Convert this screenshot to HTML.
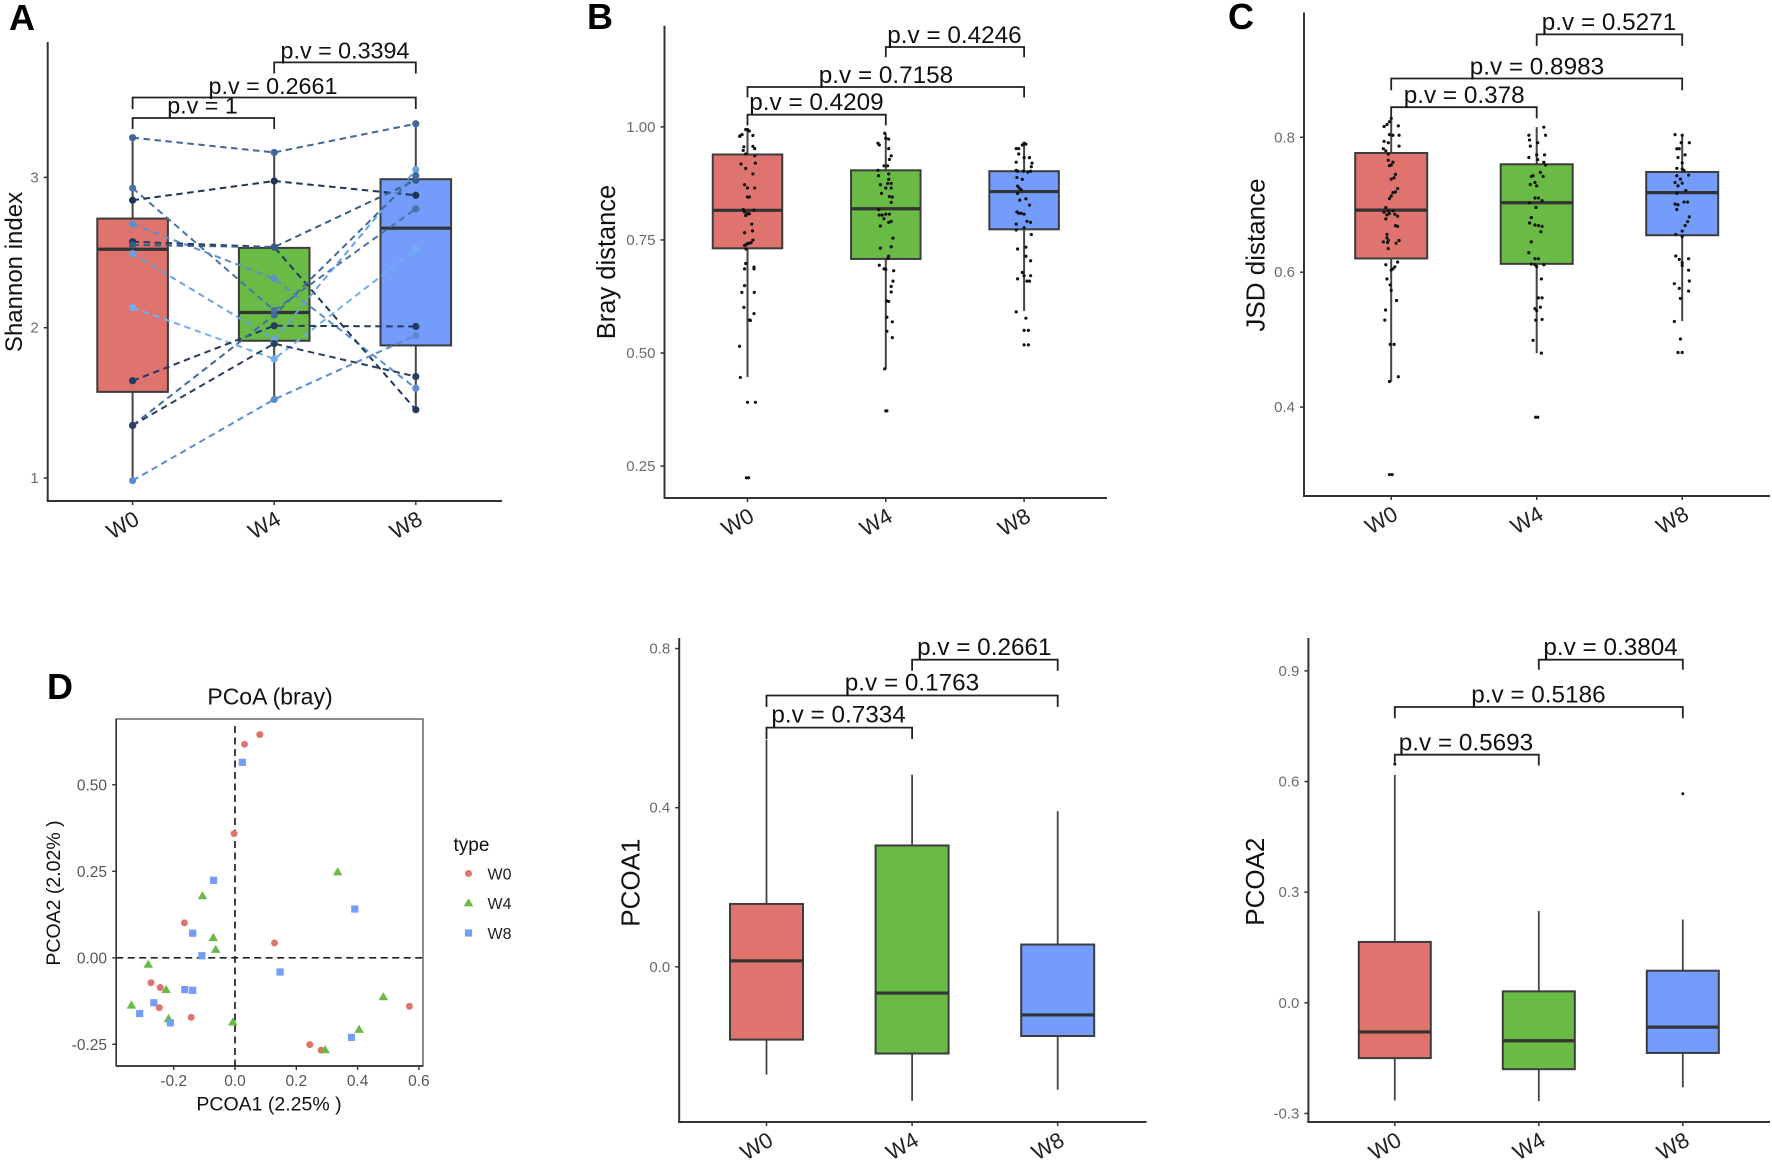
<!DOCTYPE html>
<html lang="en">
<head>
<meta charset="utf-8">
<title>Shannon, Bray, JSD and PCoA comparison across W0, W4 and W8</title>
<style>
html,body{margin:0;padding:0;background:#fff;}
svg{display:block;font-family:"Liberation Sans",Arial,sans-serif;filter:blur(0.35px);}
</style>
</head>
<body>
<svg id="figure" xmlns="http://www.w3.org/2000/svg" width="1772" height="1163" viewBox="0 0 1772 1163">
<rect x="0" y="0" width="1772" height="1163" fill="#ffffff"/>
<text x="9" y="30" font-size="36" font-weight="700" fill="#000">A</text>
<text x="587" y="29" font-size="36" font-weight="700" fill="#000">B</text>
<text x="1228" y="29" font-size="36" font-weight="700" fill="#000">C</text>
<text x="47" y="699" font-size="36" font-weight="700" fill="#000">D</text>
</svg>
<script>
// ---------- shared categories ----------
const categories = ['W0', 'W4', 'W8'];
const boxFills = ['#DE746D', '#69BB46', '#739CFB'];

// ---------- panel A: Shannon index ----------
const aTicks = [1, 2, 3];
const aTickLabels = ['1', '2', '3'];
const aQ1 = [1.573, 1.913, 1.882];
const aMedian = [2.522, 2.101, 2.662];
const aQ3 = [2.726, 2.531, 2.988];
const aWhiskerLow = [0.983, 1.523, 1.454];
const aWhiskerHigh = [3.264, 3.166, 3.357];
const aPLabels = ['p.v = 1', 'p.v = 0.2661', 'p.v = 0.3394'];
const aPairedW0 = [3.264, 2.929, 2.848, 2.688, 2.572, 2.551, 2.493, 2.134, 1.647, 1.350, 1.350, 0.983];
const aPairedW4 = [3.166, 2.115, 2.976, 2.327, 2.536, 2.536, 1.923, 1.792, 2.013, 2.084, 1.894, 1.523];
const aPairedW8 = [3.357, 2.791, 2.881, 1.597, 1.454, 2.981, 3.052, 2.522, 2.008, 3.012, 1.675, 1.949];
const aPairColors = ['#41679b', '#4a72a8', '#1f3557', '#5b8fd0', '#22385c', '#3a5a8a', '#6aa2e2', '#70aef0', '#223a5f', '#3f6aa0', '#2a4060', '#5a8dcf'];

// ---------- panel B: Bray distance ----------
const bTicks = [0.25, 0.5, 0.75, 1];
const bTickLabels = ['0.25', '0.50', '0.75', '1.00'];
const bQ1 = [0.7315, 0.708, 0.7735];
const bMedian = [0.8155, 0.819, 0.857];
const bQ3 = [0.939, 0.904, 0.902];
const bWhiskerLow = [0.447, 0.465, 0.593];
const bWhiskerHigh = [0.995, 0.986, 0.964];
const bPLabels = ['p.v = 0.4209', 'p.v = 0.7158', 'p.v = 0.4246'];
const bValuesW0 = [.979,.982,.983,.994,.994,.991,.981,.956,.957,.952,.948,.940,.936,.918,.908,.920,.896,.872,.865,.865,.845,.845,.817,.812,.808,.804,.808,.816,.785,.770,.766,.750,.744,.743,.742,.739,.738,.730,.698,.686,.690,.686,.649,.634,.634,.601,.587,.573,.572,.515,.446,.391,.391,.224,.224];
const bJitterW0 = [-.057,-.047,-.039,-.013,0,.013,.039,-.026,.039,.052,-.031,-.013,.052,-.047,-.013,.057,.039,-.021,0,.052,0,.013,-.031,-.021,0,-.013,.013,.047,.031,.036,-.021,.039,.026,.013,0,-.013,-.021,-.01,-.013,-.021,.047,.047,-.021,-.041,.049,-.026,.047,.013,.021,-.057,-.052,0,.057,-.008,.008];
const bValuesW4 = [.986,.975,.973,.964,.960,.952,.936,.928,.914,.914,.904,.892,.896,.884,.872,.875,.875,.865,.865,.853,.846,.845,.833,.817,.805,.805,.807,.807,.797,.791,.789,.781,.754,.732,.735,.714,.709,.694,.686,.685,.682,.659,.647,.635,.615,.614,.579,.569,.548,.534,.465,.372,.372];
const bJitterW4 = [-.008,0,.021,-.057,-.047,.021,.039,.026,-.013,.013,-.057,-.052,.021,.021,-.039,.013,.039,0,.039,-.031,.026,.047,.039,-.052,-.047,-.026,0,.026,-.013,.039,.021,-.039,.052,-.039,.039,.021,.013,-.047,-.013,0,.057,.052,.039,.039,.008,.021,.008,.047,.008,.047,-.008,0,.008];
const bValuesW8 = [.952,.952,.960,.964,.962,.940,.932,.932,.922,.920,.912,.904,.902,.902,.900,.902,.888,.884,.869,.865,.853,.861,.838,.841,.827,.812,.809,.807,.809,.789,.791,.785,.777,.772,.762,.730,.734,.714,.704,.678,.664,.671,.671,.659,.659,.591,.577,.550,.550,.518,.518];
const bJitterW8 = [-.057,-.039,-.013,0,.013,-.039,0,.039,-.057,.057,.052,-.057,-.047,-.005,.026,.047,-.052,-.013,-.047,-.036,-.047,-.021,-.031,.013,.039,-.052,-.039,0,-.021,.047,.021,-.057,0,-.057,.052,-.047,.013,.013,.047,-.013,-.047,0,.047,.021,.039,-.057,.013,0,.031,0,.031];

// ---------- panel C: JSD distance ----------
const cTicks = [0.4, 0.6, 0.8];
const cTickLabels = ['0.4', '0.6', '0.8'];
const cQ1 = [0.6204, 0.6124, 0.6548];
const cMedian = [0.692, 0.703, 0.718];
const cQ3 = [0.7767, 0.760, 0.7486];
const cWhiskerLow = [0.4376, 0.480, 0.5277];
const cWhiskerHigh = [0.828, 0.815, 0.804];
const cPLabels = ['p.v = 0.378', 'p.v = 0.8983', 'p.v = 0.5271'];
const cValuesW0 = [.828,.823,.816,.819,.817,.804,.803,.803,.794,.792,.783,.780,.787,.775,.766,.763,.759,.758,.745,.740,.738,.724,.719,.718,.713,.709,.696,.691,.691,.689,.685,.687,.686,.683,.679,.669,.668,.656,.651,.647,.645,.644,.647,.643,.635,.615,.608,.611,.605,.603,.590,.581,.573,.558,.544,.529,.493,.493,.445,.438,.300,.300];
const cJitterW0 = [0,-.012,-.049,-.029,.049,-.012,.012,.054,-.049,-.02,-.054,-.037,.054,-.02,-.02,.012,0,-.012,.029,.02,0,.044,.029,.012,0,-.012,-.037,-.02,.012,-.049,-.029,-.012,.025,.044,-.037,.029,.044,-.029,-.029,-.02,-.054,-.025,.054,.034,-.02,.044,.025,-.037,.012,0,-.029,-.007,0,.037,-.039,-.044,-.007,.02,.049,-.012,-.012,.007];
const cValuesW4 = [.815,.803,.803,.796,.792,.787,.770,.774,.774,.767,.763,.759,.748,.743,.742,.742,.730,.733,.728,.703,.710,.710,.706,.696,.681,.673,.670,.669,.668,.660,.645,.629,.620,.620,.612,.611,.611,.608,.590,.562,.562,.546,.543,.548,.529,.530,.499,.480,.385,.385];
const cJitterW4 = [.049,-.054,.061,-.049,.007,-.044,-.054,0,.054,.007,.049,.061,.025,-.025,-.037,.044,-.044,-.012,0,-.049,-.012,.012,.037,-.005,-.037,-.049,-.012,.012,.037,.029,-.037,-.054,-.012,.012,-.037,-.012,.049,0,.032,.012,.037,-.012,0,.025,-.007,.037,-.025,.032,-.007,.007];
const cValuesW8 = [.804,.803,.792,.792,.783,.783,.774,.770,.762,.754,.753,.751,.744,.743,.738,.733,.728,.732,.721,.717,.701,.700,.704,.704,.693,.682,.675,.669,.661,.656,.653,.624,.619,.614,.620,.610,.603,.587,.583,.576,.572,.561,.527,.501,.481,.481];
const cJitterW8 = [-.049,0,.049,-.007,-.037,-.02,.02,-.029,0,-.037,0,.012,.044,-.037,-.012,-.049,-.029,0,.025,-.037,-.049,-.029,.012,.037,-.037,.049,.037,.02,0,-.044,0,-.044,-.02,0,.044,0,.044,.049,-.054,-.02,.044,-.012,-.054,-.012,-.029,0];

// ---------- panel D: PCoA scatter ----------
const dXTicks = [-0.2, 0, 0.2, 0.4, 0.6];
const dXTickLabels = ['-0.2', '0.0', '0.2', '0.4', '0.6'];
const dYTicks = [-0.25, 0, 0.25, 0.5];
const dYTickLabels = ['-0.25', '0.00', '0.25', '0.50'];
const dW0X = [.081,.031,-.003,-.165,.129,-.274,-.244,-.247,-.143,.244,.281,.569];
const dW0Y = [.645,.617,.359,.101,.043,-.072,-.086,-.144,-.172,-.251,-.267,-.140];
const dW4X = [.335,-.106,-.071,-.063,-.283,-.225,-.338,-.217,-.007,.484,.405,.294];
const dW4Y = [.248,.179,.058,.024,-.019,-.092,-.137,-.176,-.186,-.113,-.207,-.266];
const dW8X = [.024,-.070,.391,-.138,-.108,.147,-.164,-.138,-.265,-.311,-.211,.380];
const dW8Y = [.565,.224,.141,.071,.006,-.041,-.092,-.094,-.130,-.161,-.188,-.230];

// ---------- panel E: PCOA1 box plot ----------
const eTicks = [0, 0.4, 0.8];
const eTickLabels = ['0.0', '0.4', '0.8'];
const eQ1 = [-0.183, -0.218, -0.174];
const eMedian = [0.015, -0.066, -0.121];
const eQ3 = [0.158, 0.305, 0.056];
const eWhiskerLow = [-0.271, -0.337, -0.309];
const eWhiskerHigh = [0.571, 0.483, 0.391];
const ePLabels = ['p.v = 0.7334', 'p.v = 0.1763', 'p.v = 0.2661'];

// ---------- panel F: PCOA2 box plot ----------
const fTicks = [-0.3, 0, 0.3, 0.6, 0.9];
const fTickLabels = ['-0.3', '0.0', '0.3', '0.6', '0.9'];
const fQ1 = [-0.150, -0.180, -0.136];
const fMedian = [-0.079, -0.103, -0.066];
const fQ3 = [0.165, 0.031, 0.087];
const fWhiskerLow = [-0.265, -0.267, -0.229];
const fWhiskerHigh = [0.618, 0.249, 0.226];
const fPLabels = ['p.v = 0.5693', 'p.v = 0.5186', 'p.v = 0.3804'];
const fOutlierW0 = [0.647];
const fOutlierW4 = [];
const fOutlierW8 = [0.567];

const SVG_NS = 'http://www.w3.org/2000/svg';
const root = document.getElementById('figure');

function mk(tag, attrs, parent) {
  const node = document.createElementNS(SVG_NS, tag);
  for (const k in attrs) node.setAttribute(k, attrs[k]);
  parent.appendChild(node);
  return node;
}

function drawBoxPanel(p) {
  const g = mk('g', {}, root);
  
  
  const xAt = i => p.x0 + p.step * i;
  const yAt = v => p.refPx - (v - p.refVal) * p.unit;

  // y axis title
  const yTitle = mk('text', {
    x: p.titleX, y: p.titleY, 'font-size': p.titleSize, fill: '#111', 'text-anchor': 'middle',
    transform: 'rotate(-90 ' + p.titleX + ' ' + p.titleY + ')'
  }, g);
  yTitle.textContent = p.title;
  
  

  // axes
  const yAxis = mk('line', { x1: p.left, x2: p.left, y1: p.top, y2: p.bottom + 1, stroke: '#333', 'stroke-width': 2 }, g);
  
  
  const xAxis = mk('line', { x1: p.left - 1, x2: p.right, y1: p.bottom, y2: p.bottom, stroke: '#333', 'stroke-width': 2 }, g);
  
  

  // y ticks
  p.ticks.forEach((t, i) => {
    const tick = mk('line', { x1: p.left - 4, x2: p.left, y1: yAt(t), y2: yAt(t), stroke: '#333', 'stroke-width': 1.5 }, g);
    
    
    const label = mk('text', { x: p.left - 9, y: yAt(t) + 5, 'font-size': 15, fill: '#6b6b6b', 'text-anchor': 'end' }, g);
    label.textContent = p.tickLabels[i];
    
    
  });

  // boxes
  categories.forEach((cat, i) => {
    const cx = xAt(i);
    const whisker = mk('line', { x1: cx, x2: cx, y1: yAt(p.whiskerHigh[i]), y2: yAt(p.whiskerLow[i]), stroke: '#444', 'stroke-width': p.whiskerWidth }, g);
    
    
    const box = mk('rect', {
      x: cx - p.boxW / 2, y: yAt(p.q3[i]), width: p.boxW, height: yAt(p.q1[i]) - yAt(p.q3[i]),
      fill: boxFills[i], stroke: '#3c3c3c', 'stroke-width': 2
    }, g);
    
    
    const med = mk('line', { x1: cx - p.boxW / 2, x2: cx + p.boxW / 2, y1: yAt(p.median[i]), y2: yAt(p.median[i]), stroke: '#333', 'stroke-width': 3.2 }, g);
    
    

    // x tick + label
    const xt = mk('line', { x1: cx, x2: cx, y1: p.bottom, y2: p.bottom + 4, stroke: '#333', 'stroke-width': 1.5 }, g);
    
    
    const lx = cx - 10, ly = p.bottom + 24;
    const xl = mk('text', {
      x: lx, y: ly, dy: '.35em', 'font-size': 22, fill: '#222', 'text-anchor': 'middle',
      transform: 'rotate(-30 ' + lx + ' ' + ly + ')'
    }, g);
    xl.textContent = cat;
    
    
  });

  // jitter / outlier dots
  if (p.dots) {
    p.dots.forEach((series, i) => {
      series.values.forEach((v, j) => {
        const dot = mk('circle', { cx: xAt(i) + (series.jitter[j] || 0) * p.step, cy: yAt(v), r: p.dotR, fill: '#111' }, g);
        
        
      });
    });
  }

  // paired lines
  if (p.pairs) {
    p.pairs[0].forEach((_, k) => {
      const pts = p.pairs.map((s, i) => xAt(i) + ',' + yAt(s[k])).join(' ');
      const line = mk('polyline', { points: pts, fill: 'none', stroke: p.pairColors[k], 'stroke-width': 2, 'stroke-dasharray': '6.5 4.5' }, g);
      
      
    });
    p.pairs[0].forEach((_, k) => {
      p.pairs.forEach((s, i) => {
        const pt = mk('circle', { cx: xAt(i), cy: yAt(s[k]), r: 3.6, fill: p.pairColors[k] }, g);
        
        
      });
    });
  }

  // comparison brackets
  p.brackets.forEach((b, i) => {
    const x1 = xAt(b.from), x2 = xAt(b.to);
    const path = mk('path', {
      d: 'M' + x1 + ' ' + b.low + 'V' + b.y + 'H' + x2 + 'V' + b.low,
      fill: 'none', stroke: '#222', 'stroke-width': 1.8
    }, g);
    
    
    const t = mk('text', { x: b.tx, y: b.ty, 'font-size': p.pSize, fill: '#111', 'text-anchor': 'middle' }, g);
    t.textContent = p.pLabels[i];
    
    
  });
}

drawBoxPanel({
  id: 'a', title: 'Shannon index', titleX: 22, titleY: 272, titleSize: 24,
  left: 47.7, right: 502, top: 42, bottom: 501,
  x0: 132.6, step: 141.6, boxW: 70.6, whiskerWidth: 2,
  refVal: 1, refPx: 478, unit: 150.3,
  ticks: aTicks, tickLabels: aTickLabels,
  q1: aQ1, median: aMedian, q3: aQ3, whiskerLow: aWhiskerLow, whiskerHigh: aWhiskerHigh,
  pairs: [aPairedW0, aPairedW4, aPairedW8], pairColors: aPairColors,
  pSize: 23.3, pLabels: aPLabels,
  brackets: [
    { from: 0, to: 1, y: 118, low: 129, tx: 202.5, ty: 113.6 },
    { from: 0, to: 2, y: 97.5, low: 109, tx: 273, ty: 93.9 },
    { from: 1, to: 2, y: 62.4, low: 73.5, tx: 345, ty: 58.4 }
  ]
});

drawBoxPanel({
  id: 'b', title: 'Bray distance', titleX: 615, titleY: 262, titleSize: 25.5,
  left: 664.5, right: 1107, top: 25.8, bottom: 498,
  x0: 747.5, step: 138.3, boxW: 69.5, whiskerWidth: 2,
  refVal: 1, refPx: 126.9, unit: 452.2,
  ticks: bTicks, tickLabels: bTickLabels,
  q1: bQ1, median: bMedian, q3: bQ3, whiskerLow: bWhiskerLow, whiskerHigh: bWhiskerHigh,
  dots: [
    { values: bValuesW0, jitter: bJitterW0 },
    { values: bValuesW4, jitter: bJitterW4 },
    { values: bValuesW8, jitter: bJitterW8 }
  ], dotR: 1.6,
  pSize: 24.3, pLabels: bPLabels,
  brackets: [
    { from: 0, to: 1, y: 114.7, low: 125.4, tx: 816.5, ty: 110 },
    { from: 0, to: 2, y: 87, low: 97.5, tx: 886, ty: 83 },
    { from: 1, to: 2, y: 47, low: 57.3, tx: 954.5, ty: 43 }
  ]
});

drawBoxPanel({
  id: 'c', title: 'JSD distance', titleX: 1264.7, titleY: 255, titleSize: 26,
  left: 1304, right: 1770, top: 12.5, bottom: 496,
  x0: 1391.2, step: 145.5, boxW: 72, whiskerWidth: 2,
  refVal: 0.8, refPx: 137.3, unit: 674.5,
  ticks: cTicks, tickLabels: cTickLabels,
  q1: cQ1, median: cMedian, q3: cQ3, whiskerLow: cWhiskerLow, whiskerHigh: cWhiskerHigh,
  dots: [
    { values: cValuesW0, jitter: cJitterW0 },
    { values: cValuesW4, jitter: cJitterW4 },
    { values: cValuesW8, jitter: cJitterW8 }
  ], dotR: 1.6,
  pSize: 24.3, pLabels: cPLabels,
  brackets: [
    { from: 0, to: 1, y: 107.2, low: 118.3, tx: 1464.2, ty: 103 },
    { from: 0, to: 2, y: 78.5, low: 90.3, tx: 1536.9, ty: 74.5 },
    { from: 1, to: 2, y: 34.4, low: 45.9, tx: 1609, ty: 30 }
  ]
});

drawBoxPanel({
  id: 'e', title: 'PCOA1', titleX: 639.4, titleY: 882.6, titleSize: 26,
  left: 679.2, right: 1146.6, top: 638, bottom: 1122,
  x0: 766.5, step: 145.6, boxW: 73, whiskerWidth: 1.8,
  refVal: 0, refPx: 966.8, unit: 397.8,
  ticks: eTicks, tickLabels: eTickLabels,
  q1: eQ1, median: eMedian, q3: eQ3, whiskerLow: eWhiskerLow, whiskerHigh: eWhiskerHigh,
  pSize: 24.3, pLabels: ePLabels,
  brackets: [
    { from: 0, to: 1, y: 727.6, low: 739, tx: 838.6, ty: 722.7 },
    { from: 0, to: 2, y: 695.5, low: 707, tx: 912, ty: 690.7 },
    { from: 1, to: 2, y: 659.7, low: 670.8, tx: 984.3, ty: 654.8 }
  ]
});

drawBoxPanel({
  id: 'f', title: 'PCOA2', titleX: 1264, titleY: 881.7, titleSize: 26,
  left: 1308.4, right: 1770, top: 638, bottom: 1122,
  x0: 1394.8, step: 144, boxW: 72, whiskerWidth: 1.8,
  refVal: 0, refPx: 1002.8, unit: 368.8,
  ticks: fTicks, tickLabels: fTickLabels,
  q1: fQ1, median: fMedian, q3: fQ3, whiskerLow: fWhiskerLow, whiskerHigh: fWhiskerHigh,
  dots: [
    { values: fOutlierW0, jitter: [] },
    { values: fOutlierW4, jitter: [] },
    { values: fOutlierW8, jitter: [] }
  ], dotR: 1.5,
  pSize: 24.3, pLabels: fPLabels,
  brackets: [
    { from: 0, to: 1, y: 754.7, low: 765.5, tx: 1466, ty: 750.5 },
    { from: 0, to: 2, y: 707, low: 718.2, tx: 1538.4, ty: 702.5 },
    { from: 1, to: 2, y: 659.7, low: 669.8, tx: 1610.6, ty: 654.8 }
  ]
});

// ---------- PCoA scatter drawing ----------
(function drawScatter() {
  const g = mk('g', {}, root);
  
  
  const L = 116.2, R = 423, T = 719, B = 1066;
  const sx = v => 235 + v * 306.5;
  const sy = v => 957.8 - v * 346;

  function marker(kind, cx, cy, parent) {
    if (kind === 0) return mk('circle', { cx: cx, cy: cy, r: 3.5, fill: boxFills[0] }, parent);
    if (kind === 1) return mk('polygon', {
      points: cx + ',' + (cy - 4.8) + ' ' + (cx - 4.8) + ',' + (cy + 3.4) + ' ' + (cx + 4.8) + ',' + (cy + 3.4),
      fill: boxFills[1]
    }, parent);
    return mk('rect', { x: cx - 3.6, y: cy - 3.6, width: 7.2, height: 7.2, fill: boxFills[2] }, parent);
  }

  const frame = mk('rect', { x: L, y: T, width: R - L, height: B - T, fill: '#fff', stroke: '#666', 'stroke-width': 1.5 }, g);
  
  
  const leftAxis = mk('line', { x1: L, x2: L, y1: T, y2: B, stroke: '#333', 'stroke-width': 1.6 }, g);
  
  
  const bottomAxis = mk('line', { x1: L, x2: R, y1: B, y2: B, stroke: '#333', 'stroke-width': 1.8 }, g);
  
  

  const zeroH = mk('line', { x1: L, x2: R, y1: sy(0), y2: sy(0), stroke: '#222', 'stroke-width': 1.7, 'stroke-dasharray': '7 4.5' }, g);
  
  
  const zeroV = mk('line', { x1: sx(0), x2: sx(0), y1: T + 7, y2: B, stroke: '#222', 'stroke-width': 1.7, 'stroke-dasharray': '7 4.5' }, g);
  
  

  dXTicks.forEach((t, i) => {
    const tick = mk('line', { x1: sx(t), x2: sx(t), y1: B, y2: B + 4, stroke: '#333', 'stroke-width': 1.4 }, g);
    
    
    const label = mk('text', { x: sx(t), y: 1086, 'font-size': 15.5, fill: '#555', 'text-anchor': 'middle' }, g);
    label.textContent = dXTickLabels[i];
    
    
  });
  dYTicks.forEach((t, i) => {
    const tick = mk('line', { x1: L - 4, x2: L, y1: sy(t), y2: sy(t), stroke: '#333', 'stroke-width': 1.4 }, g);
    
    
    const label = mk('text', { x: 107, y: sy(t) + 5.5, 'font-size': 15.5, fill: '#555', 'text-anchor': 'end' }, g);
    label.textContent = dYTickLabels[i];
    
    
  });

  const seriesX = [dW0X, dW4X, dW8X];
  const seriesY = [dW0Y, dW4Y, dW8Y];
  seriesX.forEach((xs, s) => {
    xs.forEach((xv, i) => {
      const m = marker(s, sx(xv), sy(seriesY[s][i]), g);
      
      
    });
  });

  const title = mk('text', { x: 270, y: 704.4, 'font-size': 23, fill: '#111', 'text-anchor': 'middle' }, g);
  title.textContent = 'PCoA (bray)';
  
  
  const xTitle = mk('text', { x: 269, y: 1110.5, 'font-size': 19.5, fill: '#111', 'text-anchor': 'middle' }, g);
  xTitle.textContent = 'PCOA1 (2.25% )';
  
  
  const yTitle = mk('text', { x: 60, y: 893, 'font-size': 19.5, fill: '#111', 'text-anchor': 'middle', transform: 'rotate(-90 60 893)' }, g);
  yTitle.textContent = 'PCOA2 (2.02% )';
  
  

  const legendTitle = mk('text', { x: 453.5, y: 851, 'font-size': 19, fill: '#111' }, g);
  legendTitle.textContent = 'type';
  
  
  const legendY = [873.5, 903, 933];
  categories.forEach((cat, i) => {
    const m = marker(i, 468.5, legendY[i], g);
    
    
    const t = mk('text', { x: 487.5, y: legendY[i] + 6, 'font-size': 16, fill: '#222' }, g);
    t.textContent = cat;
    
    
  });
})();
</script>
</body>
</html>
